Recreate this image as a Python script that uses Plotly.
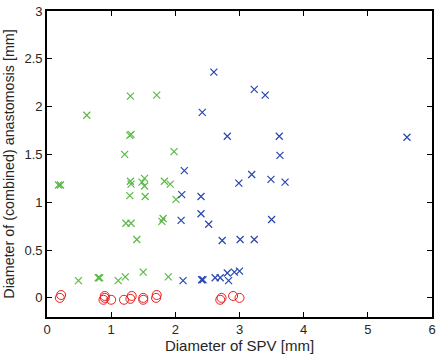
import plotly.graph_objects as go

# Red circles: no anastomosis (diameter ~0)
red_x = [0.20, 0.22, 0.88, 0.90, 0.90, 1.00, 1.20, 1.30, 1.32, 1.50, 1.50, 1.70, 1.71, 2.70, 2.72, 2.90, 3.00]
red_y = [0.00, 0.03, -0.02, 0.00, 0.02, -0.02, -0.02, -0.01, 0.02, -0.02, 0.00, 0.00, 0.03, -0.02, 0.00, 0.02, 0.00]

# Green crosses
green_x = [0.62, 1.30, 1.71, 1.29, 1.31, 1.21, 1.98, 0.18, 0.21, 1.30, 1.31, 1.48, 1.52, 1.52, 1.83, 1.92,
           1.29, 1.53, 2.01, 1.23, 1.31, 1.79, 1.81, 1.40, 0.49, 0.80, 0.82, 1.11, 1.22, 1.50, 1.89]
green_y = [1.91, 2.11, 2.12, 1.70, 1.71, 1.50, 1.53, 1.18, 1.18, 1.22, 1.19, 1.21, 1.25, 1.17, 1.22, 1.19,
           1.07, 1.06, 1.03, 0.78, 0.78, 0.80, 0.83, 0.61, 0.18, 0.21, 0.21, 0.18, 0.22, 0.27, 0.22]

# Blue crosses
blue_x = [2.60, 2.42, 2.81, 3.23, 3.40, 3.62, 3.63, 5.61, 2.14, 3.19, 3.49, 3.71, 2.99, 2.10, 2.40, 2.40,
          3.50, 2.09, 2.52, 2.73, 3.01, 3.23, 2.12, 2.41, 2.43, 2.62, 2.70, 2.81, 2.83, 2.92, 3.00]
blue_y = [2.36, 1.94, 1.69, 2.18, 2.12, 1.69, 1.49, 1.68, 1.33, 1.29, 1.24, 1.21, 1.20, 1.08, 1.06, 0.88,
          0.82, 0.81, 0.77, 0.60, 0.61, 0.61, 0.18, 0.19, 0.19, 0.21, 0.21, 0.26, 0.18, 0.27, 0.28]

x_ticks = [0, 1, 2, 3, 4, 5, 6]
y_ticks = [0, 0.5, 1, 1.5, 2, 2.5, 3]
y_tick_labels = ["0", "0.5", "1", "1.5", "2", "2.5", "3"]

GREEN = "rgb(90,185,70)"
BLUE = "rgb(40,70,175)"
RED = "rgb(235,30,30)"

fig = go.Figure()
fig.add_trace(go.Scatter(x=green_x, y=green_y, mode="markers",
                         marker=dict(symbol="x-thin-open", size=7, color=GREEN, line=dict(color=GREEN, width=1.2))))
fig.add_trace(go.Scatter(x=blue_x, y=blue_y, mode="markers",
                         marker=dict(symbol="x-thin-open", size=7, color=BLUE, line=dict(color=BLUE, width=1.2))))
fig.add_trace(go.Scatter(x=red_x, y=red_y, mode="markers",
                         marker=dict(symbol="circle-open", size=9, color=RED, line=dict(color=RED, width=1))))

axis_common = dict(showline=True, linecolor="black", linewidth=1.6, mirror="allticks",
                   ticks="inside", ticklen=5, tickwidth=1.2, tickcolor="black",
                   showgrid=False, zeroline=False, ticklabeloverflow="allow",
                   tickfont=dict(family="Liberation Sans, Arial, sans-serif", size=13, color="#262626"))

fig.update_layout(
    width=440, height=360,
    margin=dict(l=47, r=4, t=5, b=43),
    paper_bgcolor="white", plot_bgcolor="white",
    showlegend=False,
    font=dict(family="Liberation Sans, Arial, sans-serif", size=13, color="#262626"),
    xaxis=dict(range=[0, 6], tickvals=x_ticks,
               title=dict(text="Diameter of SPV [mm]", font=dict(size=15), standoff=2),
               **axis_common),
    yaxis=dict(range=[-0.2, 3], tickvals=y_ticks, ticktext=y_tick_labels,
               title=dict(text="Diameter of (combined) anastomosis [mm]", font=dict(size=14.3), standoff=7),
               **axis_common),
)

fig.write_html("out.html", config={"displayModeBar": False},
               post_script="document.body.style.margin='0';document.body.style.overflow='hidden';")
